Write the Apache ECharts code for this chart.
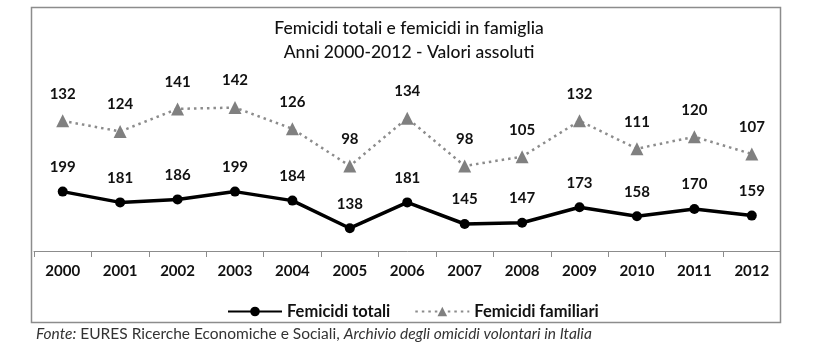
<!DOCTYPE html>
<html>
<head>
    <meta charset="utf-8" />
    <title>femicidi</title>
    <script src="https://cdn.jsdelivr.net/npm/echarts@6/dist/echarts.min.js"></script>
    <style>
        html, body { margin: 0; padding: 0; background: #fff; }
        #container { width: 837px; height: 351px; }
    </style>
</head>
<body>
    <div id="container"></div>
<script>
    // dati
    var anni = ["2000", "2001", "2002", "2003", "2004", "2005", "2006", "2007", "2008", "2009", "2010", "2011", "2012"];
    var femicidiTotali = [199, 181, 186, 199, 184, 138, 181, 145, 147, 173, 158, 170, 159];
    var femicidiFamiliari = [132, 124, 141, 142, 126, 98, 134, 98, 105, 132, 111, 120, 107];

    var font = "Lato";
    var myChart = echarts.init(document.getElementById("container"), null, { renderer: "canvas" });

    var option = {
        animation: false,
        backgroundColor: "#fff",
        title: {
            text: "Femicidi totali e femicidi in famiglia\nAnni 2000-2012 - Valori assoluti",
            left: 404,
            textAlign: "center",
            top: 11,
            textStyle: { fontFamily: font, fontSize: 17.5, fontWeight: 500, color: "#111", lineHeight: 24 }
        },
        legend: {
            left: 222,
            top: 298,
            itemWidth: 54,
            itemHeight: 12,
            itemGap: 24,
            textStyle: { fontFamily: font, fontSize: 16.5, fontWeight: "bold", color: "#111" },
            data: ["Femicidi totali", "Femicidi familiari"]
        },
        grid: { left: 34, right: 56.5, top: 61, bottom: 100 },
        xAxis: {
            type: "category",
            data: anni,
            boundaryGap: true,
            axisLine: { lineStyle: { color: "#8c8c8c", width: 1 } },
            axisTick: { show: true, length: 6, lineStyle: { color: "#8c8c8c" } },
            axisLabel: { margin: 13, fontFamily: font, fontSize: 15, fontWeight: "bold", color: "#111" }
        },
        yAxis: [
            { type: "value", min: 100, max: 416.7, show: false, splitLine: { show: false } },
            { type: "value", min: 33.9, max: 177.1, show: false, splitLine: { show: false } }
        ],
        series: [
            {
                name: "Femicidi totali",
                type: "line",
                yAxisIndex: 0,
                data: femicidiTotali,
                symbol: "circle",
                symbolSize: 10,
                color: "#000",
                lineStyle: { color: "#000", width: 3.5 },
                label: { show: true, position: "top", distance: 12, fontFamily: font, fontSize: 15, fontWeight: "bold", color: "#111" }
            },
            {
                name: "Femicidi familiari",
                type: "line",
                yAxisIndex: 1,
                data: femicidiFamiliari,
                symbol: "triangle",
                symbolSize: 13,
                color: "#808080",
                lineStyle: { color: "#8c8c8c", width: 2.5, type: [2.5, 4] },
                label: { show: true, position: "top", distance: 13, fontFamily: font, fontSize: 15, fontWeight: "bold", color: "#111" }
            }
        ],
        graphic: [
            {
                type: "rect",
                shape: { x: 31.5, y: 7.5, width: 749, height: 315 },
                style: { fill: null, stroke: "#8c8c8c", lineWidth: 1.5 },
                silent: true
            },
            {
                type: "text",
                left: 36,
                top: 326,
                style: {
                    text: "{i|Fonte:} EURES Ricerche Economiche e Sociali, {i|Archivio degli omicidi volontari in Italia}",
                    fontFamily: font,
                    fontSize: 15.5,
                    fill: "#333",
                    rich: { i: { fontFamily: font, fontSize: 15.5, fontStyle: "italic", fill: "#333" } }
                }
            }
        ]
    };

    myChart.setOption(option);
</script>
</body>
</html>
